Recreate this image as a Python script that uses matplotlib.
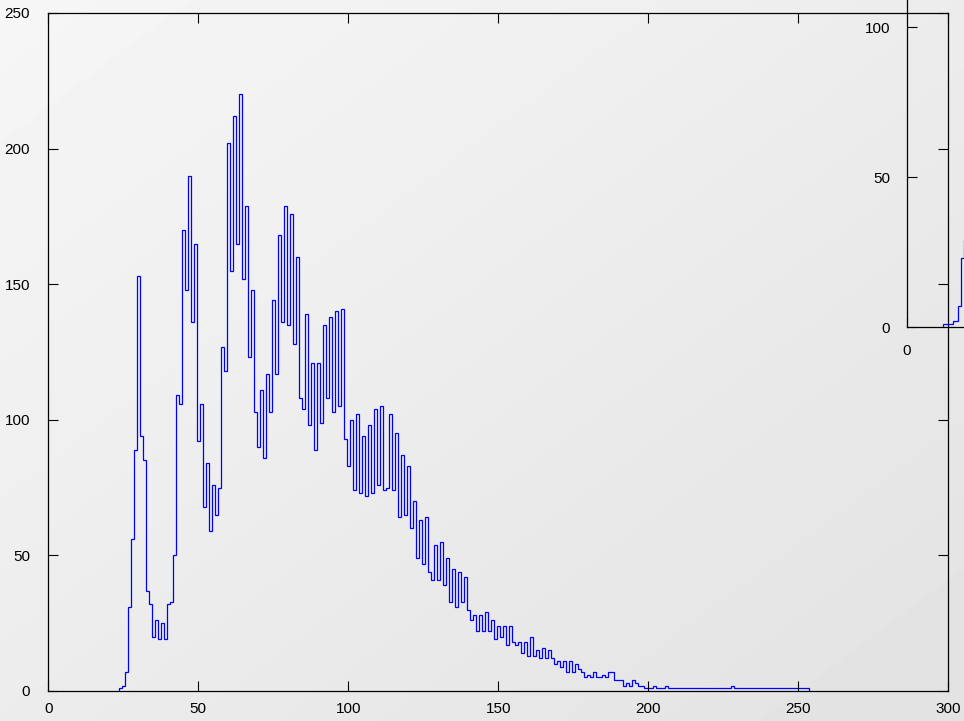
import numpy as np
import matplotlib
matplotlib.use('Agg')
import matplotlib.pyplot as plt

# histogram, one unit wide bins starting at 23.7
bin_start = 23.7
counts = [
    1, 2, 7, 31, 56, 89, 153, 94, 85, 37,
    32, 20, 26, 19, 25, 19, 32, 33, 50, 109,
    106, 170, 148, 190, 136, 165, 92, 106, 68, 84,
    59, 76, 65, 75, 127, 118, 202, 155, 212, 165,
    220, 152, 179, 123, 148, 103, 90, 111, 86, 117,
    103, 144, 117, 168, 136, 179, 135, 176, 128, 160,
    108, 104, 139, 98, 121, 89, 121, 99, 135, 108,
    138, 103, 140, 105, 141, 93, 83, 100, 74, 102,
    73, 94, 72, 98, 73, 104, 76, 105, 74, 75,
    102, 74, 95, 64, 87, 65, 83, 60, 70, 49,
    63, 47, 64, 44, 41, 54, 41, 55, 39, 49,
    33, 45, 31, 44, 33, 42, 30, 26, 28, 22,
    28, 22, 29, 22, 26, 19, 24, 20, 24, 17,
    24, 18, 17, 18, 14, 18, 13, 20, 13, 15,
    12, 16, 12, 15, 12, 10, 11, 9, 11, 7,
    11, 7, 10, 8, 7, 5, 6, 5, 7, 5,
    5, 6, 5, 7, 7, 4, 4, 4, 2, 3,
    2, 4, 3, 2, 2, 1, 1, 1, 2, 1,
    1, 1, 2, 1, 1, 1, 1, 1, 1, 1,
    1, 1, 1, 1, 1, 1, 1, 1, 1, 1,
    1, 1, 1, 1, 2, 1, 1, 1, 1, 1,
    1, 1, 1, 1, 1, 1, 1, 1, 1, 1,
    1, 1, 1, 1, 1, 1, 1, 1, 1, 1,
]
edges = bin_start + np.arange(len(counts) + 1)

# the small panel at the top right (mostly cut off by the figure edge)
inset_edges = [12.2, 15.3, 17.0, 18.0, 19.0, 21.0]
inset_counts = [1, 2, 7, 23, 29]

x_ticks = [0, 50, 100, 150, 200, 250, 300]
y_ticks = [0, 50, 100, 150, 200, 250]
inset_yticks = [0, 50, 100]
inset_xticks = [0]

plt.rcParams['font.family'] = ['Liberation Sans', 'DejaVu Sans']
W, H = 964, 721
fig = plt.figure(figsize=(W / 100, H / 100), dpi=100)

# grey diagonal gradient background
bg = fig.add_axes([0, 0, 1, 1], zorder=-10)
gx, gy = np.meshgrid(np.linspace(0, 1, 200), np.linspace(0, 1, 200))
grad = 246 - 20 * (gx + gy) / 2
bg.imshow(grad, cmap='gray', vmin=0, vmax=255, aspect='auto',
          extent=[0, 1, 0, 1], origin='upper')
bg.axis('off')

ax = fig.add_axes([48.3 / W, 30 / H, 900 / W, 678 / H])
ax.patch.set_alpha(0)
ax.stairs(counts, edges, color='#0000ff', lw=0.9)
ax.set_xlim(0, 300)
ax.set_ylim(0, 250)
ax.set_xticks(x_ticks)
ax.set_yticks(y_ticks)
ax.tick_params(direction='in', length=7, width=0.8, top=True, right=True,
               labelsize=11, colors='black')
ax.tick_params(axis='y', pad=13)
ax.tick_params(axis='x', pad=8)
for s in ax.spines.values():
    s.set_linewidth(0.9)

ins = fig.add_axes([906.7 / W, (H - 327.3) / H, 300 / W, 360 / H])
ins.patch.set_alpha(0)
ins.stairs(inset_counts, inset_edges, color='#0000ff', lw=0.9)
ins.set_xlim(0, 100)
ins.set_ylim(0, 120)
ins.set_xticks(inset_xticks)
ins.set_yticks(inset_yticks)
ins.tick_params(direction='in', length=7, width=0.8, labelsize=11)
ins.tick_params(axis='y', pad=12)
ins.tick_params(axis='x', pad=12)
for s in ins.spines.values():
    s.set_linewidth(0.9)

fig.savefig('out.png', dpi=100)
